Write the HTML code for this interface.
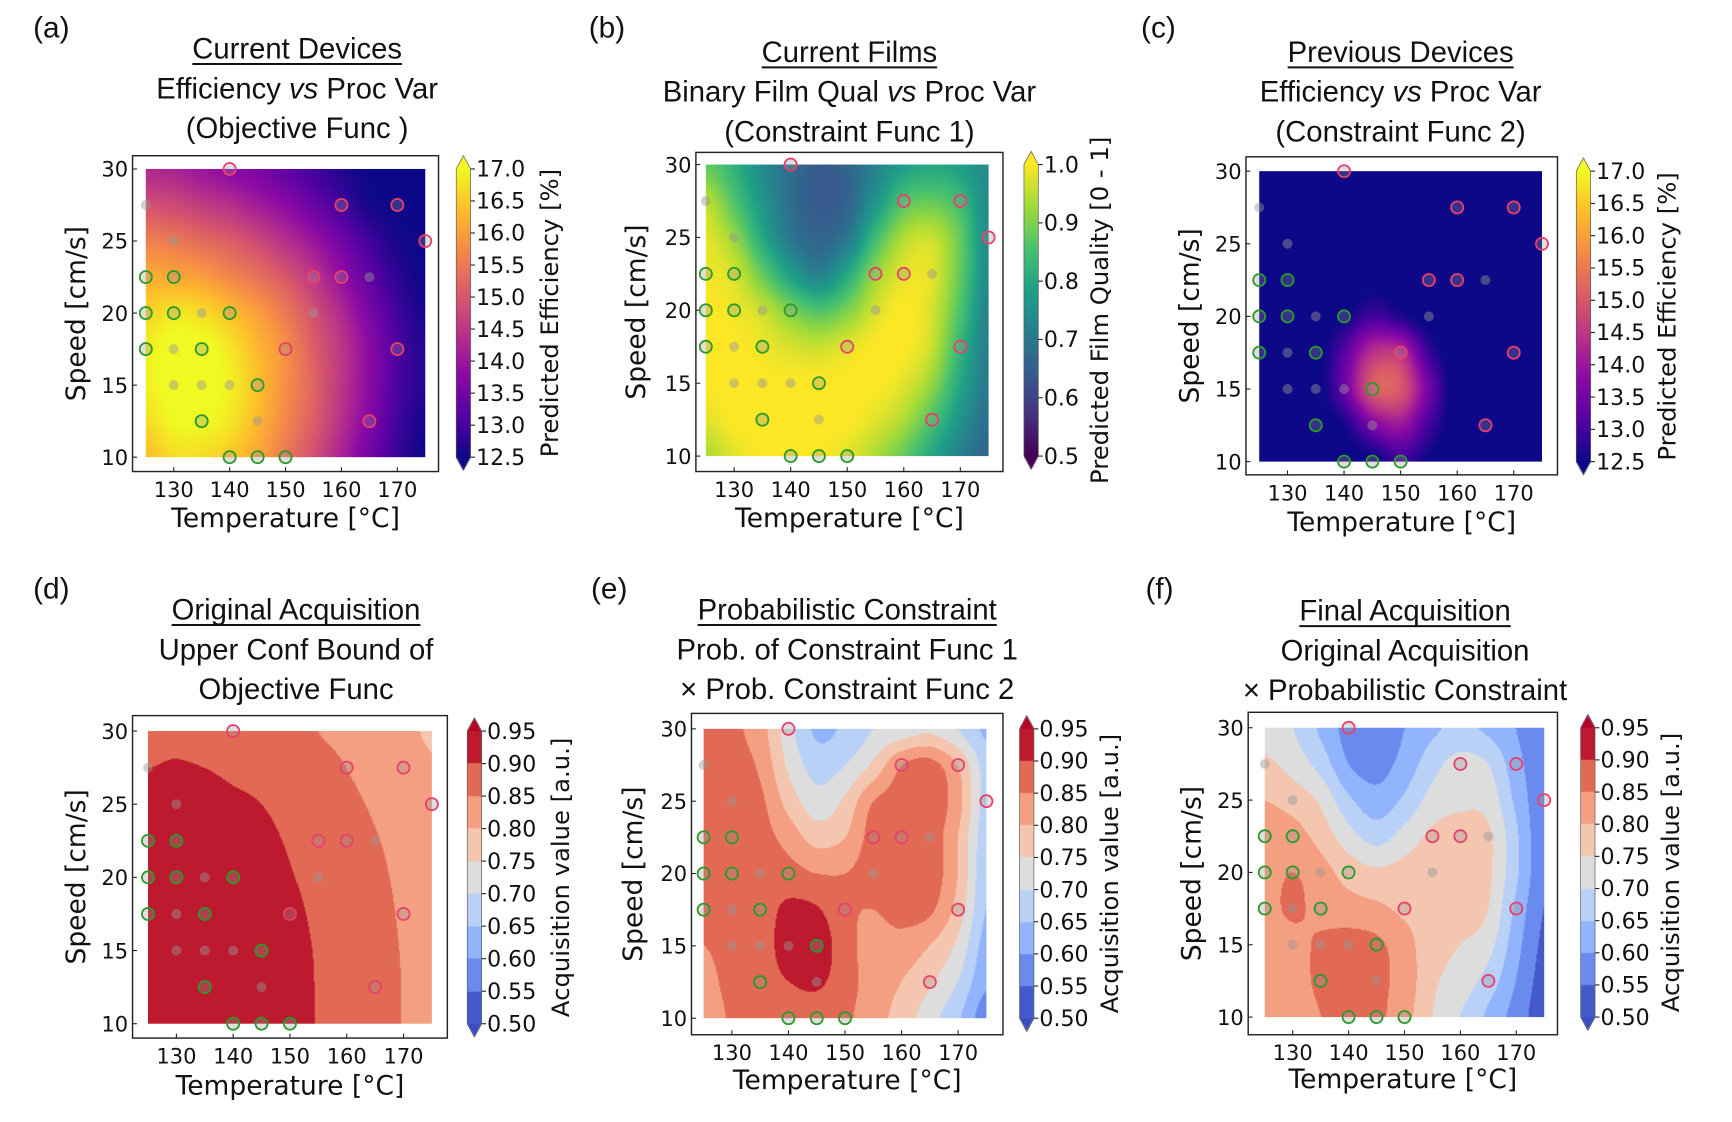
<!DOCTYPE html>
<html><head><meta charset="utf-8">
<style>
html,body{margin:0;padding:0;background:#fff;}
#root{position:relative;width:1568px;height:1016px;transform:scale(1.10459,1.10433);transform-origin:0 0;overflow:hidden;}
canvas{position:absolute;}
svg{position:absolute;left:0;top:0;}
text{font-family:"DejaVu Sans",sans-serif;fill:#111;}
text.ttl{font-family:"Liberation Sans",sans-serif;}
</style></head>
<body>
<div id="root">
<svg id="ov" width="1568" height="1016" viewBox="0 0 1568 1016"></svg>
</div>
<script>
// ---- data: grid temps / speeds ----
const temps = [125,130,135,140,145,150,155,160,165,170,175];
const speeds = [30,27.5,25,22.5,20,17.5,15,12.5,10];
const xTicks = [130,140,150,160,170];
const yTicks = [10,15,20,25,30];
const ticksEff = ["17.0","16.5","16.0","15.5","15.0","14.5","14.0","13.5","13.0","12.5"];
const ticksFilm = ["1.0","0.9","0.8","0.7","0.6","0.5"];
const ticksAcq = ["0.95","0.90","0.85","0.80","0.75","0.70","0.65","0.60","0.55","0.50"];

const gridA = [
[14.3,14.2,14.0,13.8,13.6,13.3,13.0,12.7,12.5,12.5,12.5],
[14.9,14.8,14.6,14.4,14.1,13.8,13.4,13.0,12.6,12.5,12.5],
[15.6,15.5,15.3,15.1,14.8,14.4,14.0,13.5,13.0,12.6,12.5],
[16.2,16.1,16.0,15.7,15.4,15.0,14.5,13.9,13.3,12.8,12.5],
[16.6,16.8,16.7,16.4,16.0,15.5,14.9,14.3,13.6,13.0,12.6],
[16.9,17.1,17.1,16.8,16.3,15.8,15.1,14.5,13.8,13.1,12.7],
[16.9,17.1,17.1,16.9,16.4,15.8,15.2,14.5,13.8,13.1,12.7],
[16.7,17.0,17.0,16.8,16.3,15.7,15.1,14.4,13.7,13.0,12.6],
[16.4,16.7,16.7,16.5,16.1,15.5,14.9,14.2,13.5,12.9,12.5]];
const gridB = [
[0.88,0.82,0.74,0.68,0.64,0.66,0.72,0.78,0.80,0.78,0.74],
[0.95,0.86,0.76,0.68,0.64,0.66,0.76,0.86,0.88,0.84,0.74],
[0.98,0.92,0.80,0.70,0.66,0.70,0.84,0.94,0.96,0.88,0.74],
[0.99,0.97,0.88,0.78,0.72,0.80,0.92,0.98,0.98,0.88,0.74],
[1.0,0.99,0.96,0.90,0.86,0.90,0.97,1.0,0.97,0.86,0.72],
[1.0,1.0,0.99,0.97,0.96,0.98,1.0,1.0,0.96,0.83,0.71],
[1.0,1.0,1.0,1.0,1.0,1.0,1.0,0.98,0.92,0.80,0.70],
[0.98,1.0,1.0,1.0,1.0,1.0,0.98,0.94,0.86,0.76,0.68],
[0.94,0.98,1.0,1.0,1.0,0.98,0.94,0.88,0.80,0.72,0.66]];
const gridC = [
[12.3,12.3,12.3,12.3,12.3,12.3,12.3,12.3,12.3,12.3,12.3],
[12.3,12.3,12.3,12.3,12.3,12.3,12.3,12.3,12.3,12.3,12.3],
[12.3,12.3,12.3,12.3,12.3,12.3,12.3,12.3,12.3,12.3,12.3],
[12.3,12.3,12.3,12.3,12.4,12.3,12.3,12.3,12.3,12.3,12.3],
[12.3,12.3,12.3,12.5,13.0,12.7,12.3,12.3,12.3,12.3,12.3],
[12.3,12.3,12.3,13.2,14.4,14.4,12.9,12.3,12.3,12.3,12.3],
[12.3,12.3,12.3,13.4,15.0,15.0,13.5,12.3,12.3,12.3,12.3],
[12.3,12.3,12.3,12.6,13.6,14.0,13.0,12.3,12.3,12.3,12.3],
[12.3,12.3,12.3,12.3,12.4,12.9,12.5,12.3,12.3,12.3,12.3]];
const gridD = [
[0.895,0.895,0.89,0.885,0.875,0.865,0.85,0.84,0.825,0.81,0.795],
[0.90,0.902,0.90,0.895,0.89,0.88,0.865,0.85,0.835,0.82,0.805],
[0.91,0.91,0.91,0.905,0.90,0.89,0.875,0.86,0.845,0.83,0.815],
[0.92,0.92,0.915,0.912,0.907,0.897,0.885,0.868,0.853,0.838,0.823],
[0.925,0.925,0.92,0.918,0.912,0.902,0.89,0.875,0.858,0.843,0.828],
[0.93,0.93,0.925,0.922,0.916,0.907,0.894,0.878,0.861,0.846,0.831],
[0.93,0.93,0.93,0.925,0.92,0.91,0.897,0.88,0.863,0.848,0.833],
[0.931,0.931,0.931,0.926,0.921,0.911,0.898,0.881,0.864,0.849,0.834],
[0.931,0.931,0.931,0.926,0.921,0.911,0.898,0.881,0.864,0.849,0.834]];
const gridE = [
[0.86,0.86,0.82,0.72,0.64,0.66,0.70,0.72,0.74,0.70,0.64],
[0.87,0.87,0.84,0.74,0.68,0.70,0.76,0.85,0.87,0.80,0.68],
[0.87,0.88,0.86,0.78,0.72,0.76,0.85,0.87,0.88,0.82,0.68],
[0.87,0.88,0.87,0.83,0.78,0.80,0.87,0.87,0.88,0.80,0.67],
[0.87,0.88,0.88,0.87,0.85,0.85,0.87,0.88,0.88,0.80,0.66],
[0.86,0.88,0.88,0.91,0.905,0.86,0.85,0.87,0.86,0.78,0.65],
[0.85,0.87,0.88,0.92,0.93,0.87,0.83,0.83,0.80,0.74,0.63],
[0.83,0.87,0.88,0.90,0.91,0.87,0.83,0.80,0.76,0.70,0.61],
[0.81,0.86,0.87,0.87,0.87,0.86,0.82,0.78,0.72,0.66,0.57]];
const gridF = [
[0.73,0.70,0.64,0.58,0.56,0.60,0.64,0.66,0.64,0.60,0.56],
[0.76,0.73,0.68,0.60,0.58,0.62,0.68,0.72,0.70,0.62,0.56],
[0.80,0.78,0.74,0.66,0.62,0.66,0.72,0.74,0.73,0.64,0.56],
[0.82,0.82,0.78,0.72,0.68,0.72,0.76,0.77,0.76,0.66,0.56],
[0.83,0.85,0.82,0.78,0.76,0.77,0.78,0.78,0.76,0.66,0.56],
[0.83,0.86,0.83,0.82,0.81,0.79,0.78,0.78,0.75,0.64,0.55],
[0.82,0.83,0.86,0.87,0.86,0.82,0.77,0.75,0.72,0.62,0.54],
[0.82,0.83,0.86,0.87,0.86,0.83,0.76,0.73,0.68,0.60,0.53],
[0.80,0.82,0.85,0.86,0.86,0.82,0.75,0.70,0.64,0.58,0.52]];

// sample points: temp, speed, kind (g=green open, r=red open, x=grey dot)
const ptT = [125,125,125,125,130,130,130,130,130,135,135,135,135,140,140,140,140,145,145,145,150,150,155,155,160,160,165,165,170,170,175];
const ptS = [27.5,22.5,20,17.5,25,22.5,20,17.5,15,20,17.5,15,12.5,30,20,15,10,15,12.5,10,17.5,10,22.5,20,27.5,22.5,22.5,12.5,27.5,17.5,25];
const ptK = ["x","g","g","g","x","g","g","x","x","x","g","x","g","r","g","x","g","g","x","g","r","g","r","x","r","r","x","r","r","r","r"];

// ---- colormaps (style) ----
const PLASMA=[[13,8,135],[84,2,163],[139,10,165],[185,50,137],[219,92,104],[244,136,73],[254,188,43],[240,249,33]];
const VIRIDIS=[[68,1,84],[70,50,127],[54,92,141],[39,127,142],[31,161,135],[74,194,109],[159,218,58],[253,231,37]];
const COOLWARM=[[59,76,192],[98,130,234],[141,176,254],[184,208,249],[221,221,221],[245,196,173],[244,154,123],[222,96,77],[180,4,38]];
function cmap(st,t){t=Math.max(0,Math.min(1,t));const n=st.length-1;const f=t*n;const i=Math.min(n-1,Math.floor(f));const r=f-i;
 return [0,1,2].map(k=>Math.round(st[i][k]+(st[i+1][k]-st[i][k])*r));}

const panels=[
 {id:"a",grid:gridA,cm:PLASMA,vmin:12.5,vmax:17,bands:0,x0:132,x1:385,yT:153,yB:414,fr:[120,141,397,427],cb:413,tk:ticksEff,cbl:"Predicted Efficiency [%]",cblx:505,cx:269,ty:[44,80,116],title:[["Current Devices"],["Efficiency ","vs"," Proc Var"],["(Objective Func )"]],tag:[30,25,"(a)"],ylx:68,xly:468},
 {id:"b",grid:gridB,cm:VIRIDIS,vmin:0.5,vmax:1.0,bands:0,x0:639,x1:895,yT:149,yB:413,fr:[630,138,908,427],cb:927,tk:ticksFilm,cbl:"Predicted Film Quality [0 - 1]",cblx:1003,cx:769,ty:[47,83,119],title:[["Current Films"],["Binary Film Qual ","vs"," Proc Var"],["(Constraint Func 1)"]],tag:[533,25,"(b)"],ylx:575,xly:468},
 {id:"c",grid:gridC,cm:PLASMA,vmin:12.5,vmax:17,bands:0,x0:1140,x1:1396,yT:155,yB:418,fr:[1128,142,1410,430],cb:1427,tk:ticksEff,cbl:"Predicted Efficiency [%]",cblx:1517,cx:1268,ty:[47,83,119],title:[["Previous Devices"],["Efficiency ","vs"," Proc Var"],["(Constraint Func 2)"]],tag:[1033,25,"(c)"],ylx:1076,xly:472},
 {id:"d",grid:gridD,cm:COOLWARM,vmin:0.5,vmax:0.95,bands:9,x0:134,x1:391,yT:662,yB:927,fr:[120,648,405,940],cb:423,tk:ticksAcq,cbl:"Acquisition value [a.u.]",cblx:515,cx:268,ty:[552,588,624],title:[["Original Acquisition"],["Upper Conf Bound of"],["Objective Func"]],tag:[30,533,"(d)"],ylx:68,xly:982},
 {id:"e",grid:gridE,cm:COOLWARM,vmin:0.5,vmax:0.95,bands:9,x0:637,x1:893,yT:660,yB:922,fr:[626,646,908,937],cb:923,tk:ticksAcq,cbl:"Acquisition value [a.u.]",cblx:1012,cx:767,ty:[552,588,624],title:[["Probabilistic Constraint"],["Prob. of Constraint Func 1"],["× Prob. Constraint Func 2"]],tag:[535,533,"(e)"],ylx:572,xly:977},
 {id:"f",grid:gridF,cm:COOLWARM,vmin:0.5,vmax:0.95,bands:9,x0:1145,x1:1398,yT:659,yB:921,fr:[1130,645,1410,937],cb:1431,tk:ticksAcq,cbl:"Acquisition value [a.u.]",cblx:1520,cx:1272,ty:[553,589,625],title:[["Final Acquisition"],["Original Acquisition"],["× Probabilistic Constraint"]],tag:[1037,533,"(f)"],ylx:1078,xly:976}
];
const root=document.getElementById('root');
const svg=document.getElementById('ov');
const NS="http://www.w3.org/2000/svg";
function mk(tag,attrs,parent){const e=document.createElementNS(NS,tag);for(const k in attrs)e.setAttribute(k,attrs[k]);(parent||svg).appendChild(e);return e;}
function colorFor(p,v){let t=(v-p.vmin)/(p.vmax-p.vmin);
 if(p.bands){t=Math.max(0,Math.min(0.9999,t));t=0.03+0.94*Math.floor(t*p.bands)/(p.bands-1);}
 return cmap(p.cm,t);}
function cr(p0,p1,p2,p3,t){return 0.5*((2*p1)+(-p0+p2)*t+(2*p0-5*p1+4*p2-p3)*t*t+(-p0+3*p1-3*p2+p3)*t*t*t);}
function sample(g,fx,fy){
 const nc=temps.length,nr=speeds.length;
 const c=Math.max(0,Math.min(nc-1.0001,fx)),r=Math.max(0,Math.min(nr-1.0001,fy));
 const i=Math.floor(c),j=Math.floor(r),a=c-i,b=r-j;
 const col=k=>Math.max(0,Math.min(nc-1,k)),row=k=>Math.max(0,Math.min(nr-1,k));
 const vals=[];
 for(let dj=-1;dj<=2;dj++){const R=g[row(j+dj)];vals.push(cr(R[col(i-1)],R[col(i)],R[col(i+1)],R[col(i+2)],a));}
 return cr(vals[0],vals[1],vals[2],vals[3],b);}

panels.forEach(p=>{
 const xs=t=>p.x0+(t-temps[0])/(temps[temps.length-1]-temps[0])*(p.x1-p.x0);
 const ys=s=>p.yB-(s-10)/(30-10)*(p.yB-p.yT);
 const g=mk('g',{});
 
 
 const fr=mk('rect',{x:p.fr[0],y:p.fr[1],width:p.fr[2]-p.fr[0],height:p.fr[3]-p.fr[1],fill:'none',stroke:'#222','stroke-width':1.3},g);
 
 
 const W=Math.round(p.x1-p.x0),H=Math.round(p.yB-p.yT);
 const cv=document.createElement('canvas');cv.width=W;cv.height=H;
 cv.style.left=p.x0+'px';cv.style.top=p.yT+'px';
 
 
 root.insertBefore(cv,svg);
 const ctx=cv.getContext('2d');const im=ctx.createImageData(W,H);
 for(let y=0;y<H;y++)for(let x=0;x<W;x++){
  const v=sample(p.grid,x/(W-1)*(temps.length-1),y/(H-1)*(speeds.length-1));
  const c=colorFor(p,v);const o=(y*W+x)*4;im.data[o]=c[0];im.data[o+1]=c[1];im.data[o+2]=c[2];im.data[o+3]=255;}
 ctx.putImageData(im,0,0);
 const cbW=13,cbT=p.yT,cbB=p.yB;
 const cc=document.createElement('canvas');cc.width=cbW;cc.height=Math.round(cbB-cbT)+24;
 cc.style.left=p.cb+'px';cc.style.top=(cbT-12)+'px';
 
 
 root.insertBefore(cc,svg);
 const c2=cc.getContext('2d');const Hc=cbB-cbT;
 for(let y=0;y<Hc;y++){const v=p.vmax-((y+0.5)/Hc)*(p.vmax-p.vmin);const c=colorFor(p,v);c2.fillStyle=`rgb(${c})`;c2.fillRect(0,y+12,cbW,1.5);}
 let c=cmap(p.cm,1);c2.fillStyle=`rgb(${c})`;c2.beginPath();c2.moveTo(0,12);c2.lineTo(cbW/2,0);c2.lineTo(cbW,12);c2.fill();
 c=cmap(p.cm,0);c2.fillStyle=`rgb(${c})`;c2.beginPath();c2.moveTo(0,12+Hc);c2.lineTo(cbW/2,24+Hc);c2.lineTo(cbW,12+Hc);c2.fill();
 mk('polygon',{points:`${p.cb},${cbT} ${p.cb+cbW/2},${cbT-12} ${p.cb+cbW},${cbT} ${p.cb+cbW},${cbB} ${p.cb+cbW/2},${cbB+12} ${p.cb},${cbB}`,fill:'none',stroke:'#555','stroke-width':0.6},g);
 p.tk.forEach((t,i)=>{const y=cbT+i*(cbB-cbT)/(p.tk.length-1);
  mk('line',{x1:p.cb+cbW,x2:p.cb+cbW+4,y1:y,y2:y,stroke:'#222'},g);
  const tx=mk('text',{x:p.cb+cbW+5,y:y+7,'font-size':20},g);tx.textContent=t;
  
  });
 const cl=mk('text',{x:p.cblx,y:(cbT+cbB)/2,'font-size':22,'text-anchor':'middle',transform:`rotate(-90 ${p.cblx} ${(cbT+cbB)/2})`},g);
 cl.textContent=p.cbl;
 
 
 xTicks.forEach(t=>{const x=xs(t);mk('line',{x1:x,x2:x,y1:p.fr[3],y2:p.fr[3]-4,stroke:'#222'},g);
  const tx=mk('text',{x:x,y:p.fr[3]+23,'font-size':19,'text-anchor':'middle'},g);tx.textContent=t;
  
  });
 yTicks.forEach(s=>{const y=ys(s);mk('line',{x1:p.fr[0],x2:p.fr[0]+4,y1:y,y2:y,stroke:'#222'},g);
  const tx=mk('text',{x:p.fr[0]-4,y:y+7,'font-size':19,'text-anchor':'end'},g);tx.textContent=s;
  
  });
 const xl=mk('text',{x:(p.fr[0]+p.fr[2])/2,y:p.xly+9,'font-size':24,'text-anchor':'middle'},g);xl.textContent="Temperature [°C]";
 
 
 const ym=(p.fr[1]+p.fr[3])/2;
 const yl=mk('text',{x:p.ylx+9,y:ym,'font-size':24,'text-anchor':'middle',transform:`rotate(-90 ${p.ylx+9} ${ym})`},g);yl.textContent="Speed [cm/s]";
 
 
 p.title.forEach((parts,i)=>{const tx=mk('text',{class:'ttl',x:p.cx,y:p.ty[i]+9,'font-size':26.5,'text-anchor':'middle'},g);
  parts.forEach((s,k)=>{const ts=mk('tspan',{},tx);ts.textContent=s;if(s==='vs')ts.setAttribute('font-style','italic');});
  
  
  if(i==0){const w=tx.getComputedTextLength();mk('line',{x1:p.cx-w/2,x2:p.cx+w/2,y1:p.ty[i]+14,y2:p.ty[i]+14,stroke:'#111','stroke-width':1.8},g);}});
 const tg=mk('text',{class:'ttl',x:p.tag[0],y:p.tag[1]+9,'font-size':27},g);tg.textContent=p.tag[2];
 
 
 ptT.forEach((t,i)=>{const k=ptK[i];const x=xs(t),y=ys(ptS[i]);let el;
  if(k==='x')el=mk('circle',{cx:x,cy:y,r:4.5,fill:'rgba(150,150,150,0.45)'},g);
  else el=mk('circle',{cx:x,cy:y,r:5.5,fill:'rgba(150,150,150,0.3)',stroke:k==='g'?'#2a9a2a':'#e8406a','stroke-width':1.6},g);
  
  });
});
</script>
</body></html>
